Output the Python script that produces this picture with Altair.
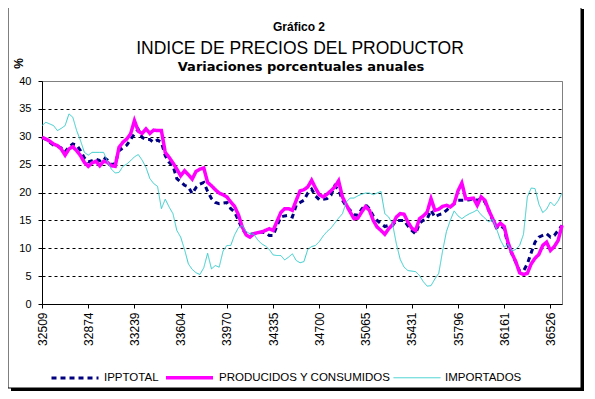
import altair as alt
import pandas as pd

# x categories: monthly, Excel serial labels shown every 12 months
tick_labels = ["32509", "32874", "33239", "33604", "33970", "34335",
               "34700", "35065", "35431", "35796", "36161", "36526"]
y_ticks = [0, 5, 10, 15, 20, 25, 30, 35, 40]
series_names = ["IPPTOTAL", "PRODUCIDOS Y CONSUMIDOS", "IMPORTADOS"]
series_colors = ["#000080", "#FF00FF", "#33CCCC"]

ipp = [29.9, 29.5, 29.0, 28.5, 28.3, 28.0, 27.3, 28.2, 28.7, 28.5,
       27.5, 26.2, 25.5, 25.7, 26.0, 25.7, 26.3, 25.8, 25.0, 25.2,
       27.5, 28.0, 28.5, 29.5, 30.5, 31.3, 29.9, 29.5, 29.5, 29.0,
       29.4, 29.0, 26.6, 25.4, 24.8, 22.5, 21.9, 21.3, 21.0, 19.8,
       20.9, 21.5, 21.8, 20.2, 18.9, 18.2, 18.0, 18.1, 18.2, 17.1,
       16.5, 15.0, 13.5, 12.6, 12.5, 12.6, 12.8, 12.9, 12.8, 12.3,
       12.3, 14.0, 15.6, 15.8, 15.9, 15.6, 17.7, 18.2, 18.6, 19.9,
       20.6, 19.4, 18.7, 18.8, 18.9, 19.5, 21.2, 20.5, 18.6, 17.5,
       16.8, 16.0, 15.9, 17.0, 17.8, 17.1, 15.8, 15.0, 14.4, 13.9,
       14.1, 14.1, 15.0, 15.0, 15.0, 14.0, 13.2, 12.6, 14.5, 15.0,
       15.3, 16.8, 15.6, 16.0, 16.2, 16.8, 17.4, 18.0, 18.6, 18.6,
       18.6, 18.7, 18.9, 18.6, 18.9, 18.3, 16.8, 15.0, 13.7, 14.1,
       13.5, 10.5, 9.0, 7.5, 5.9, 5.9, 7.2, 9.2, 11.1, 12.0,
       12.3, 12.6, 12.0, 12.3, 13.2, 14.1]

prod = [29.9, 29.6, 29.2, 28.7, 28.4, 27.8, 26.7, 27.8, 28.2, 27.5,
        26.6, 25.4, 24.7, 25.3, 25.6, 24.8, 25.6, 25.4, 24.8, 24.7,
        28.1, 29.0, 29.6, 30.5, 32.9, 31.0, 30.6, 31.4, 30.6, 31.2,
        31.1, 31.1, 27.2, 26.3, 25.3, 24.2, 23.0, 23.9, 23.2, 22.4,
        23.8, 24.2, 24.4, 21.8, 21.2, 20.5, 19.9, 19.6, 19.2, 18.3,
        17.5, 16.0, 13.8, 12.4, 12.0, 12.6, 12.8, 12.9, 13.2, 13.5,
        13.2, 14.8, 16.4, 17.1, 17.1, 16.8, 18.6, 20.3, 20.5, 21.0,
        22.2, 20.8, 19.6, 19.2, 19.7, 20.3, 21.0, 22.1, 19.2, 17.8,
        16.5, 15.3, 15.4, 16.5, 17.5, 16.8, 15.0, 13.8, 13.2, 12.5,
        13.5, 14.2, 15.6, 16.2, 16.1, 14.7, 13.6, 13.2, 15.3, 15.8,
        16.5, 18.9, 16.8, 17.0, 17.5, 17.7, 17.4, 18.0, 20.3, 21.7,
        18.9, 18.9, 19.0, 17.7, 19.2, 18.6, 16.8, 15.3, 13.8, 14.5,
        13.9, 11.0, 9.1, 7.6, 5.6, 5.3, 5.5, 7.2, 8.2, 8.9,
        10.5, 11.1, 9.6, 10.3, 11.4, 14.1]

imp = [32.0, 32.6, 32.3, 32.0, 31.1, 31.5, 32.0, 34.1, 33.5, 31.1,
       29.3, 27.2, 26.7, 27.2, 27.2, 27.2, 27.2, 25.5, 24.2, 23.5,
       23.6, 24.7, 25.1, 25.7, 26.4, 26.8, 25.8, 24.5, 22.5, 21.6,
       21.1, 17.1, 18.8, 17.4, 16.2, 13.2, 12.0, 9.8, 7.2, 6.2,
       5.6, 5.3, 6.5, 9.1, 6.3, 6.9, 6.6, 9.5, 10.5, 10.5,
       12.4, 13.7, 14.1, 13.0, 12.6, 12.5, 11.5, 10.8, 10.4, 9.8,
       8.8, 8.7, 8.7, 7.9, 8.4, 9.0, 7.8, 7.4, 7.6, 9.8,
       10.3, 10.5, 11.2, 12.2, 13.0, 13.6, 14.5, 15.4, 16.2, 18.3,
       19.0, 19.0, 19.4, 19.7, 19.9, 19.9, 19.6, 19.9, 20.2, 16.2,
       15.6, 14.4, 10.8, 8.0, 6.6, 6.0, 5.9, 5.8, 5.1, 4.0,
       3.2, 3.3, 4.5, 5.5, 9.5, 13.0, 15.0, 16.7, 15.8, 15.3,
       15.8, 16.2, 16.5, 16.9, 16.0, 15.4, 14.7, 15.2, 13.5, 11.5,
       10.2, 10.7, 9.5, 9.8, 10.5, 12.5, 19.2, 20.8, 20.7, 17.9,
       16.4, 17.0, 18.3, 17.6, 18.5, 19.9]

rows = []
for name, vals in zip(series_names, [ipp, prod, imp]):
    for i, v in enumerate(vals):
        rows.append({"m": i, "serie": name, "valor": v})
df = pd.DataFrame(rows)

W, H = 520, 223
label_expr = "[" + ",".join("'%s'" % t for t in tick_labels) + "][round(datum.value / 12)]"

x_enc = alt.X("m:Q", scale=alt.Scale(domain=[0, len(ipp) - 1], nice=False, zero=False),
              axis=alt.Axis(values=list(range(0, 12 * len(tick_labels), 12)), labelExpr=label_expr,
                            labelAngle=-90, labelFontSize=12, labelColor="black",
                            domainColor="black", tickColor="black", tickSize=4,
                            labelPadding=4, grid=False, title=None))
y_enc = alt.Y("valor:Q", scale=alt.Scale(domain=[0, 40], nice=False),
              axis=alt.Axis(values=y_ticks, title=None, labelFontSize=11, labelColor="black",
                            domainColor="black", tickColor="black", tickSize=4, labelPadding=7,
                            grid=True, gridWidth=1,
                            gridColor={"condition": {"test": "datum.value == 40", "value": "#808080"}, "value": "black"},
                            gridDash={"condition": {"test": "datum.value == 40", "value": [1, 0]}, "value": [3, 3]}))

legend = alt.Legend(title=None, orient="none", direction="horizontal", legendX=8, legendY=271,
                    symbolType="stroke", symbolSize=2209, labelFontSize=11.5, labelColor="black",
                    labelOffset=4, columnPadding=0, padding=0, labelLimit=400)

color_enc = alt.Color("serie:N", scale=alt.Scale(domain=series_names, range=series_colors), legend=legend)
dash_enc = alt.StrokeDash("serie:N", scale=alt.Scale(domain=series_names, range=[[5, 4], [1, 0], [1, 0]]), legend=legend)
width_enc = alt.StrokeWidth("serie:N", scale=alt.Scale(type="ordinal", domain=series_names, range=[3, 3.5, 1]), legend=legend)

lines = []
for name in series_names:
    lines.append(
        alt.Chart(df).transform_filter(alt.datum.serie == name).mark_line(strokeCap="butt").encode(
            x=x_enc, y=y_enc, color=color_enc, strokeDash=dash_enc, strokeWidth=width_enc
        )
    )

one = alt.Data(values=[{"k": 1}])
# outer frame with drop shadow (decoration)
shadow_r = alt.Chart(one).mark_rect(fill="black").encode(
    x=alt.value(539), x2=alt.value(542), y=alt.value(-72), y2=alt.value(310))
shadow_b = alt.Chart(one).mark_rect(fill="black").encode(
    x=alt.value(-31), x2=alt.value(542), y=alt.value(307), y2=alt.value(310))
frame = alt.Chart(one).mark_rect(fill=None, fillOpacity=0, stroke="black", strokeWidth=1).encode(
    x=alt.value(-34), x2=alt.value(539), y=alt.value(-75), y2=alt.value(307))

def label(text, x, y, size, bold, font="Liberation Sans", angle=0):
    return alt.Chart(one).mark_text(fontSize=size, fontWeight="bold" if bold else "normal",
                                    font=font, align="center", baseline="alphabetic",
                                    angle=angle, color="black").encode(
        x=alt.value(x), y=alt.value(y), text=alt.value(text))

t1 = label("Gráfico 2", 257, -50, 12, True)
t2 = label("INDICE DE PRECIOS DEL PRODUCTOR", 258, -27.5, 17.5, False)
t3 = label("Variaciones porcentuales anuales", 259, -10, 13, True, font="DejaVu Sans")
t4 = label("%", -19, -17.5, 12, True, angle=270)

chart = alt.layer(shadow_r, shadow_b, frame, *lines, t1, t2, t3, t4).properties(
    width=W, height=H,
    autosize=alt.AutoSizeParams(type="none"),
    padding={"left": 34, "top": 73, "right": 25, "bottom": 88},
    background="white",
).configure(font="Liberation Sans").configure_view(stroke="#808080", strokeWidth=1)

chart.save("out.html", embed_options={"renderer": "svg", "actions": False})
